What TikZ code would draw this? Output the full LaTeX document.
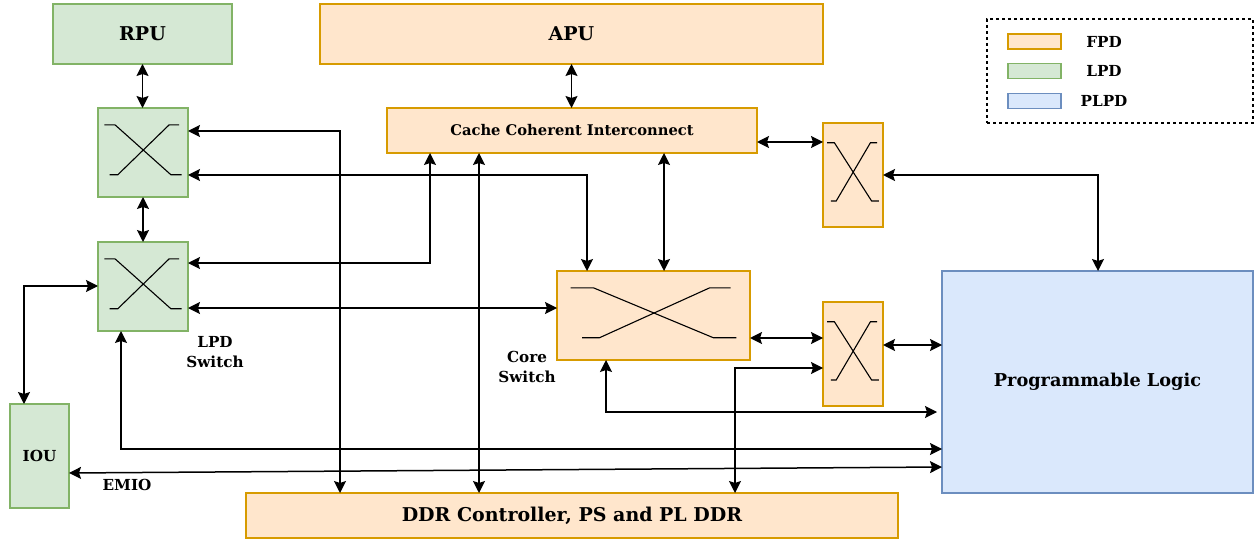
\documentclass[tikz,border=0pt]{standalone}
\usepackage{fontspec}
\setmainfont{DejaVu Serif}
\usetikzlibrary{arrows.meta,calc,positioning}

\definecolor{fpdfill}{HTML}{FFE6CC}
\definecolor{fpdline}{HTML}{D79B00}
\definecolor{lpdfill}{HTML}{D5E8D4}
\definecolor{lpdline}{HTML}{82B366}
\definecolor{plfill}{HTML}{DAE8FC}
\definecolor{plline}{HTML}{6C8EBF}

\begin{document}
\begin{tikzpicture}[x=1pt, y=-1pt,
  >={Stealth[length=12pt,width=12pt,inset=2pt]},
  wh/.style 2 args={minimum width=#1pt, minimum height=#2pt},
  box/.style={draw, line width=1.6pt, inner sep=0pt, outer sep=0pt},
  fpd/.style={box, fill=fpdfill, draw=fpdline},
  lpd/.style={box, fill=lpdfill, draw=lpdline},
  plpd/.style={box, fill=plfill, draw=plline},
  big/.style={font=\bfseries\fontsize{19}{23}\selectfont},
  mid/.style={font=\bfseries\fontsize{17.7}{21}\selectfont},
  small/.style={font=\bfseries\fontsize{14.7}{18}\selectfont},
  lbl/.style={font=\bfseries\fontsize{15.2}{19.5}\selectfont, align=center},
  link/.style={<->, line width=1.5pt}]
  \useasboundingbox (0,0) rectangle (1260,540);

  \node[lpd, wh={179}{60}, big] (rpu) at (142.5,34) {RPU};
  \node[fpd, wh={503}{60}, big] (apu) at (571.5,34) {APU};
  \node[fpd, wh={370}{45}, small] (cci) at (572,130.5) {Cache Coherent Interconnect};
  \node[lpd, wh={90}{89}] (lpdA) at (143,152.5) {};
  \node[lpd, wh={90}{89}] (lpdB) at (143,286.5) {};
  \node[fpd, wh={193}{89}] (core) at (653.5,315.5) {};
  \node[fpd, wh={60}{104}] (swA) at (853,175) {};
  \node[fpd, wh={60}{104}] (swB) at (853,354) {};
  \node[plpd, wh={311}{222}, mid] (pl) at (1097.5,382) {Programmable Logic};
  \node[lpd, wh={59}{104}, lbl] (iou) at (39.5,456) {IOU};
  \node[fpd, wh={652}{45}, big] (ddr) at (572,515.5) {DDR Controller, PS and PL DDR};

  \foreach \sw in {lpdA,lpdB,core,swA,swB}{
    \draw[line width=1.1pt] let \p1=(\sw.south west), \p2=($(\sw.north east)-(\sw.south west)$) in
      ($(\p1)+(0.07*\x2,0.81*\y2)$) -- ($(\p1)+(0.19*\x2,0.81*\y2)$) --
      ($(\p1)+(0.81*\x2,0.25*\y2)$) -- ($(\p1)+(0.93*\x2,0.25*\y2)$);
    \draw[line width=1.1pt] let \p1=(\sw.south west), \p2=($(\sw.north east)-(\sw.south west)$) in
      ($(\p1)+(0.13*\x2,0.25*\y2)$) -- ($(\p1)+(0.22*\x2,0.25*\y2)$) --
      ($(\p1)+(0.79*\x2,0.81*\y2)$) -- ($(\p1)+(0.90*\x2,0.81*\y2)$);
  }

  \node[lbl] (lpdname) at (215,352) {LPD\\Switch};
  \node[lbl] (corename) at (527,367) {Core\\Switch};
  \node[lbl] (emio) at (127,485) {EMIO};

  \node[draw, dashed, line width=1.2pt, wh={266}{104}] (legend) at (1120,71) {};
  \node[fpd, line width=1.2pt, wh={53}{15}] (keyF) at (1034.5,41.5) {};
  \node[lpd, line width=1.2pt, wh={53}{15}] (keyL) at (1034.5,71) {};
  \node[plpd, line width=1.2pt, wh={53}{15}] (keyP) at (1034.5,101) {};
  \node[lbl] (keyFtext) at (1104,41.5) {FPD};
  \node[lbl] (keyLtext) at (1104,71) {LPD};
  \node[lbl] (keyPtext) at (1104,101) {PLPD};

  \draw[link] (rpu.south) -- (rpu.south |- lpdA.north);
  \draw[link] (lpdA.south) -- (lpdB.north);
  \draw[link] (apu.south) -- (apu.south |- cci.north);
  \draw[link] (lpdA.east |- 0,131) -| (ddr.north -| 340,0);
  \draw[link] (lpdA.east |- 0,175) -| (core.north -| 587,0);
  \draw[link] (lpdB.east |- 0,263) -| (cci.south -| 430,0);
  \draw[link] (lpdB.east |- 0,308) -- (core.west |- 0,308);
  \draw[link] (cci.south -| 479,0) -- (ddr.north -| 479,0);
  \draw[link] (cci.south -| 664,0) -- (core.north -| 664,0);
  \draw[link] (cci.east |- 0,142) -- (swA.west |- 0,142);
  \draw[link] (swA.east |- 0,175) -| (pl.north -| 1098,0);
  \draw[link] (core.east |- 0,338) -- (swB.west |- 0,338);
  \draw[link] (swB.east |- 0,345) -- (pl.west |- 0,345);
  \draw[link] (ddr.north -| 735,0) |- (swB.west |- 0,368);
  \draw[link, shorten >=5pt] (core.south -| 606,0) |- (pl.west |- 0,412);
  \draw[link] (lpdB.south -| 121,0) |- (pl.west |- 0,449);
  \draw[link] (iou.east |- 0,473) -- (pl.west |- 0,467);
  \draw[link] (lpdB.west |- 0,286) -| (iou.north -| 24,0);
\end{tikzpicture}
\end{document}
